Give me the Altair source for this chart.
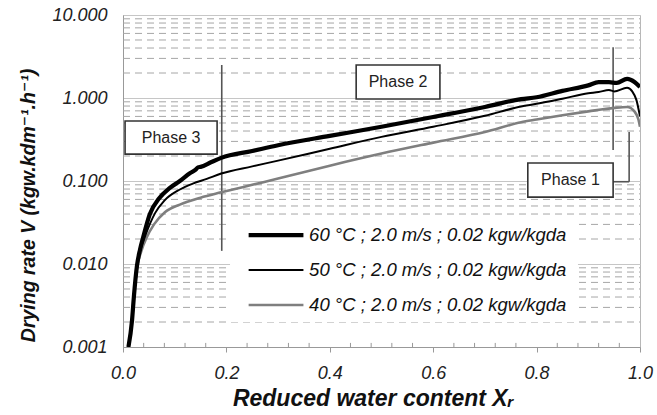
import altair as alt
import pandas as pd

FONT = "Liberation Sans, Arial, DejaVu Sans, sans-serif"

# ---------------- curve data ----------------
x60 = [0.0105, 0.0175, 0.021, 0.027, 0.033, 0.039, 0.052, 0.07, 0.09, 0.11, 0.13,
       0.14, 0.145, 0.15, 0.17, 0.19, 0.25, 0.30, 0.40, 0.50, 0.60, 0.70, 0.77,
       0.80, 0.85, 0.90, 0.92, 0.94, 0.955, 0.975, 0.99, 1.0]
v60 = [0.001, 0.0021, 0.004, 0.0095, 0.015, 0.021, 0.040, 0.062, 0.082, 0.100, 0.125,
       0.136, 0.146, 0.148, 0.168, 0.190, 0.230, 0.270, 0.350, 0.450, 0.590, 0.780, 0.970,
       1.02, 1.22, 1.42, 1.55, 1.55, 1.52, 1.70, 1.55, 1.36]

x50 = [0.0105, 0.0175, 0.021, 0.027, 0.034, 0.042, 0.062, 0.08, 0.11, 0.135, 0.162,
       0.19, 0.25, 0.30, 0.40, 0.50, 0.60, 0.70, 0.77, 0.80, 0.85, 0.90, 0.92, 0.94,
       0.95, 0.975, 0.985, 0.993, 1.0]
v50 = [0.001, 0.0021, 0.004, 0.0092, 0.015, 0.021, 0.041, 0.058, 0.079, 0.093, 0.106,
       0.123, 0.150, 0.176, 0.245, 0.340, 0.450, 0.610, 0.790, 0.850, 0.98, 1.14, 1.18, 1.25,
       1.20, 1.33, 1.20, 0.95, 0.60]

x40 = [0.0105, 0.0175, 0.021, 0.027, 0.035, 0.046, 0.06, 0.081, 0.11, 0.15, 0.19,
       0.25, 0.30, 0.40, 0.50, 0.60, 0.70, 0.77, 0.80, 0.85, 0.90, 0.95, 0.975, 0.99,
       0.997, 1.0]
v40 = [0.001, 0.0021, 0.0038, 0.0088, 0.014, 0.021, 0.030, 0.042, 0.052, 0.063, 0.073,
       0.090, 0.107, 0.153, 0.214, 0.290, 0.390, 0.510, 0.550, 0.620, 0.690, 0.760, 0.780, 0.680,
       0.550, 0.450]

series_labels = ["60 °C ; 2.0 m/s ; 0.02 kgw/kgda",
                 "50 °C ; 2.0 m/s ; 0.02 kgw/kgda",
                 "40 °C ; 2.0 m/s ; 0.02 kgw/kgda"]
series_colors = ["#000000", "#000000", "#7f7f7f"]
series_widths = [4.2, 2.0, 2.6]

# ---------------- axes / grid values ----------------
x_ticks = [0.0, 0.2, 0.4, 0.6, 0.8, 1.0]
x_minor = [0.04, 0.08, 0.12, 0.16, 0.24, 0.28, 0.32, 0.36, 0.44, 0.48, 0.52, 0.56,
           0.64, 0.68, 0.72, 0.76, 0.84, 0.88, 0.92, 0.96]
y_ticks = [0.001, 0.01, 0.1, 1, 10]
y_minor = [0.002, 0.003, 0.004, 0.005, 0.006, 0.007, 0.008, 0.009,
           0.02, 0.03, 0.04, 0.05, 0.06, 0.07, 0.08, 0.09,
           0.2, 0.3, 0.4, 0.5, 0.6, 0.7, 0.8, 0.9,
           2, 3, 4, 5, 6, 7, 8, 9]

# ---------------- annotations (data coordinates) ----------------
phase_names = ["Phase 3", "Phase 2", "Phase 1"]
box_x1 = [0.004, 0.451, 0.783]
box_x2 = [0.182, 0.613, 0.948]
box_y1 = [0.211, 0.973, 0.064]
box_y2 = [0.528, 2.50, 0.165]

vline_x = [0.191, 0.948, 0.979]
vline_y1 = [0.0144, 0.236, 0.098]
vline_y2 = [2.5, 4.1, 0.39]
hline_x1 = [0.948]
hline_x2 = [0.979]
hline_y = [0.098]

legend_rows_y = [0.0223, 0.00847, 0.00321]
legend_line_x1 = 0.243
legend_line_x2 = 0.349
legend_text_x = 0.360
legend_bg = dict(x1=[0.207], x2=[0.880], y1=[0.0020], y2=[0.0358])

# ---------------- scales & axes ----------------
XS = alt.Scale(domain=[0, 1], nice=False, zero=False)
YS = alt.Scale(type="log", domain=[0.001, 10], nice=False)

x_axis = alt.Axis(values=x_ticks, format=".1f", title="Reduced water content Xᵣ",
                  labelFont=FONT, labelFontSize=18, labelFontStyle="italic",
                  labelColor="#222222", labelPadding=12, labelFlush=False,
                  tickSize=5, tickColor="#999999", domainColor="#999999", grid=False,
                  titleFont=FONT, titleFontSize=23, titleFontWeight="bold",
                  titleFontStyle="italic", titleColor="#111111",
                  titleX=250, titleY=58, titleAlign="center", titleBaseline="alphabetic")

y_axis = alt.Axis(values=y_ticks, format=".3f", title="Drying rate V (kgw.kdm⁻¹.h⁻¹)",
                  labelFont=FONT, labelFontSize=18, labelFontStyle="italic",
                  labelColor="#222222", labelPadding=16, ticks=False, tickSize=0,
                  domainColor="#999999", grid=True, gridColor="#c6c6c6", gridWidth=1,
                  labelOverlap=False,
                  titleFont=FONT, titleFontSize=19.5, titleFontWeight="bold",
                  titleFontStyle="italic", titleColor="#111111",
                  titleX=-95, titleY=190, titleAngle=270, titleAlign="center",
                  titleBaseline="middle")


def X(field):
    return alt.X(field, scale=XS, axis=x_axis)


def Y(field):
    return alt.Y(field, scale=YS, axis=y_axis)


# ---------------- layers ----------------
minor_grid = alt.Chart(pd.DataFrame({"v": y_minor, "x0": [0.0] * len(y_minor),
                                     "x1": [1.0] * len(y_minor)})).mark_rule(
    color="#a6a6a6", strokeDash=[7, 5], strokeWidth=1
).encode(x=X("x0:Q"), x2="x1:Q", y=Y("v:Q"))

minor_ticks = alt.Chart(pd.DataFrame({"t": x_minor})).transform_calculate(
    lo="0.001", hi="0.00112"
).mark_rule(color="#999999", strokeWidth=1).encode(
    x=X("t:Q"), y=Y("lo:Q"), y2="hi:Q")

legend_box = alt.Chart(pd.DataFrame(legend_bg)).mark_rect(fill="white").encode(
    x=X("x1:Q"), x2="x2:Q", y=Y("y1:Q"), y2="y2:Q")

vlines = alt.Chart(pd.DataFrame({"x": vline_x, "y1": vline_y1, "y2": vline_y2})).mark_rule(
    color="#555555", strokeWidth=1.6
).encode(x=X("x:Q"), y=Y("y1:Q"), y2="y2:Q")

hlines = alt.Chart(pd.DataFrame({"x1": hline_x1, "x2": hline_x2, "y": hline_y})).mark_rule(
    color="#555555", strokeWidth=1.6
).encode(x=X("x1:Q"), x2="x2:Q", y=Y("y:Q"))

boxes_df = pd.DataFrame({"name": phase_names, "x1": box_x1, "x2": box_x2,
                         "y1": box_y1, "y2": box_y2})
boxes = alt.Chart(boxes_df).mark_rect(fill="white", stroke="#333333", strokeWidth=1.6).encode(
    x=X("x1:Q"), x2="x2:Q", y=Y("y1:Q"), y2="y2:Q")
box_text = alt.Chart(boxes_df).transform_calculate(
    xm="(datum.x1 + datum.x2) / 2", ym="sqrt(datum.y1 * datum.y2)"
).mark_text(font=FONT, fontSize=16, color="#222222", align="center", baseline="middle").encode(
    x=X("xm:Q"), y=Y("ym:Q"), text="name:N")

data_sets = [(x60, v60), (x50, v50), (x40, v40)]
curve_layers = []
for idx in [2, 1, 0]:
    xs, vs = data_sets[idx]
    df = pd.DataFrame({"x": xs, "v": vs})
    curve_layers.append(
        alt.Chart(df).mark_line(color=series_colors[idx], strokeWidth=series_widths[idx],
                                interpolate="monotone", clip=True).encode(
            x=X("x:Q"), y=Y("v:Q"))
    )

legend_layers = []
for idx in range(3):
    ldf = pd.DataFrame({"x1": [legend_line_x1], "x2": [legend_line_x2],
                        "tx": [legend_text_x], "y": [legend_rows_y[idx]],
                        "label": [series_labels[idx]]})
    legend_layers.append(
        alt.Chart(ldf).mark_rule(color=series_colors[idx], strokeWidth=series_widths[idx]).encode(
            x=X("x1:Q"), x2="x2:Q", y=Y("y:Q"))
    )
    legend_layers.append(
        alt.Chart(ldf).mark_text(font=FONT, fontSize=18.5, fontStyle="italic", color="#111111",
                                 align="left", baseline="middle").encode(
            x=X("tx:Q"), y=Y("y:Q"), text="label:N")
    )

chart = alt.layer(
    minor_grid, legend_box, vlines, hlines, boxes, box_text,
    *curve_layers, *legend_layers, minor_ticks
).properties(
    width=517, height=332,
    padding={"left": 123, "top": 15, "right": 17, "bottom": 68},
    autosize=alt.AutoSizeParams(type="none"),
    background="white",
).configure_view(stroke="#b8b8b8", strokeWidth=1)

chart.save("out.html", embed_options={"renderer": "svg", "actions": False})
